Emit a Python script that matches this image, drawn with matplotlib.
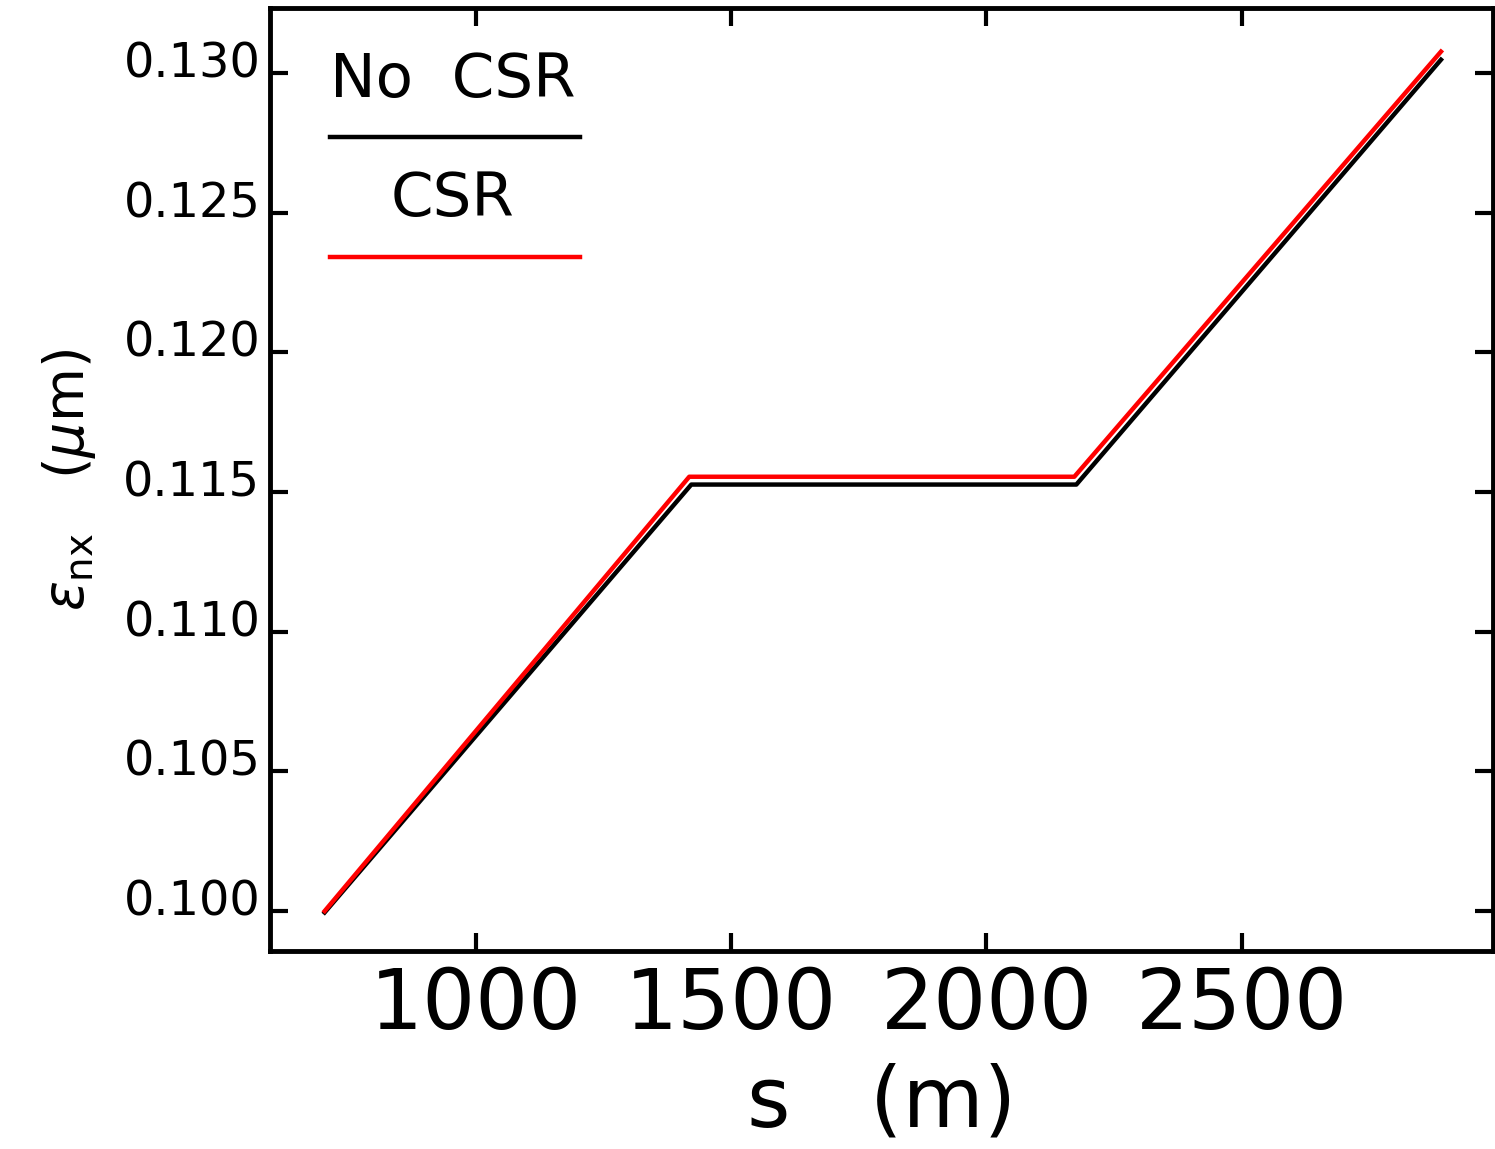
import numpy as np
import matplotlib
matplotlib.use("Agg")
import matplotlib.pyplot as plt
from matplotlib.transforms import offset_copy

plt.rcParams["font.family"] = ["DejaVu Sans"]
plt.rcParams["mathtext.fontset"] = "dejavusans"

# data
s_nocsr = [704, 1422, 2176, 2890]
eps_nocsr = [0.09995, 0.11527, 0.11527, 0.13048]
s_csr = [704, 1418, 2172, 2890]
eps_csr = [0.10000, 0.11555, 0.11555, 0.13077]

x_ticks = [1000, 1500, 2000, 2500]
y_ticks = [0.100, 0.105, 0.110, 0.115, 0.120, 0.125, 0.130]
y_ticklabels = ["0.100", "0.105", "0.110", "0.115", "0.120", "0.125", "0.130"]

fig = plt.figure(figsize=(14.95, 11.49), dpi=100)
ax = fig.add_axes([0.1806, 0.1723, 0.8181, 0.8207])

ax.plot(s_nocsr, eps_nocsr, color="black", lw=3.2)
ax.plot(s_csr, eps_csr, color="#ff0000", lw=3.2)

ax.set_xlim(597, 2992)
ax.set_ylim(0.09857, 0.13233)

ax.set_xticks(x_ticks)
ax.set_xticklabels([str(v) for v in x_ticks])
ax.set_yticks(y_ticks)
ax.set_yticklabels(y_ticklabels)

for sp in ax.spines.values():
    sp.set_linewidth(3.5)

ax.tick_params(axis="both", direction="in", length=13, width=3,
               top=True, right=True)
ax.tick_params(axis="y", labelsize=34.5, pad=7)
ax.tick_params(axis="x", labelsize=60, pad=10)

# shift y tick labels up a little, like the original
for lab in ax.get_yticklabels():
    lab.set_transform(offset_copy(lab.get_transform(), fig=fig, x=0, y=14, units="dots"))

ax.set_xlabel("s   (m)", fontsize=60)
ax.xaxis.set_label_coords(0.5, -0.118)
ax.set_ylabel(r"$\varepsilon_{\mathrm{nx}}$   ($\mu$m)", fontsize=40)
ax.yaxis.set_label_coords(-0.141, 0.5)

# legend drawn as text above a line sample
ax.text(0.1496, 0.923, "No  CSR", transform=ax.transAxes, fontsize=44,
        ha="center", va="center")
ax.plot([0.049, 0.2535], [0.863, 0.863], transform=ax.transAxes,
        color="black", lw=3.2)
ax.text(0.1496, 0.797, "CSR", transform=ax.transAxes, fontsize=44,
        ha="center", va="center")
ax.plot([0.049, 0.2535], [0.736, 0.736], transform=ax.transAxes,
        color="#ff0000", lw=3.2)

fig.savefig("out.png", dpi=100)
